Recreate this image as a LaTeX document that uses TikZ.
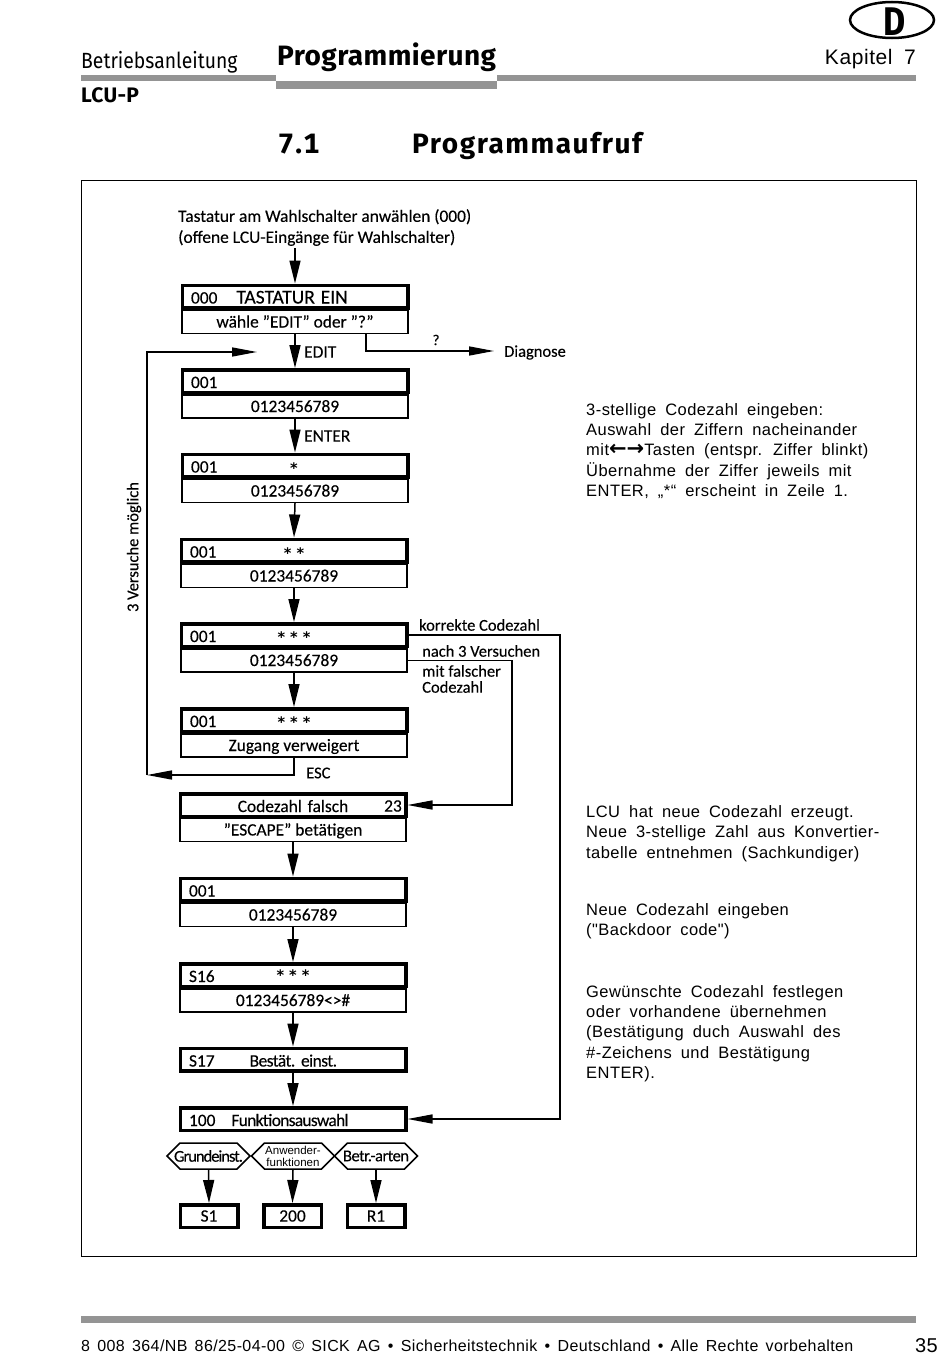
\documentclass[tikz,border=0pt]{standalone}
\usepackage{fontspec}
\setmainfont{Carlito}[FakeBold=0.25]
\newfontfamily\sidefont[LetterSpace=2.7,WordSpace=1.8]{Liberation Sans}
\newfontfamily\smallfont{Liberation Sans}
\newfontfamily\footfont[LetterSpace=2.5,WordSpace=1.5]{Liberation Sans}
\newfontfamily\manualfont[FakeStretch=.88]{Fira Sans}
\newfontfamily\headfont[LetterSpace=1.5,Numbers=Monospaced]{Fira Sans}
\newfontfamily\titlefont[LetterSpace=5.5,Numbers=Monospaced]{Fira Sans}
\newfontfamily\langfont[FakeStretch=.85]{Fira Sans}
\newfontfamily\arrowfont{DejaVu Sans}
\usetikzlibrary{arrows.meta,shapes.symbols,shapes.geometric}
\newcommand{\hexlabel}[1]{\makebox[57pt]{#1}}
\newcommand{\tightlabel}[2]{{\addfontfeature{LetterSpace=#1}#2}}

\tikzset{
    upbox/.style={draw, line width=3.5pt, minimum width=225.5pt, minimum height=22.5pt, inner sep=0pt, text width=208pt, text height=16pt, text depth=2pt, align=left},
    lowbox/.style={draw, line width=1.4pt, minimum width=226pt, minimum height=23pt, inner sep=0pt, text height=14pt, text depth=3pt, align=center},
    smallbox/.style={draw, line width=3.5pt, minimum width=57.5pt, minimum height=22.5pt, inner sep=0pt},
    hexbox/.style={draw, line width=1.5pt, shape=signal, signal to=west and east, minimum height=26pt, inner sep=0pt},
    flowarrow/.style={line width=1.5pt, -{Triangle[length=23pt,width=11pt]}},
    sidearrow/.style={line width=1.5pt, -{Triangle[length=25pt,width=9pt]}},
    flowtext/.style={inner sep=0pt, anchor=west},
    headtext/.style={inner sep=0pt, anchor=base west},
    sidetext/.style={inner sep=0pt, anchor=west, align=left, font=\sidefont\fontsize{16.5}{20.25}\selectfont},
    starmark/.style={inner sep=0pt, font=\arrowfont\bfseries\fontsize{14.5}{14}\selectfont},
    greybar/.style={fill=black!42, draw=none}
}

\begin{document}
\begin{tikzpicture}[x=1pt,y=-1pt,font=\fontsize{17.4}{21}\selectfont]
    \useasboundingbox (0,0) rectangle (950,1365);

    % page head
    \fill[greybar] (81,75) rectangle (276,81);
    \fill[greybar] (276,81) rectangle (497,89);
    \fill[greybar] (497,75) rectangle (916,81);
    \fill[greybar] (81,1316) rectangle (916,1323);
    \node[headtext, font=\manualfont\fontsize{22}{22}\selectfont] (manual) at (81,68) {Betriebsanleitung};
    \node[headtext, font=\headfont\bfseries\fontsize{28}{28}\selectfont] (chapter) at (277,65) {Programmierung};
    \node[headtext, font=\headfont\bfseries\fontsize{21}{21}\selectfont] (device) at (81,102) {LCU-P};
    \node[inner sep=0pt, anchor=base east, font=\sidefont\fontsize{21}{21}\selectfont] (kapitel) at (916,64) {Kapitel 7};
    \node[draw, ellipse, line width=2.5pt, minimum width=84pt, minimum height=36pt, inner sep=0pt] (lang) at (892,20) {};
    \node[inner sep=0pt, anchor=base, font=\langfont\bfseries\fontsize{40}{40}\selectfont] (langletter) at (895,35) {D};
    \node[headtext, font=\titlefont\bfseries\fontsize{28}{28}\selectfont] (secnum) at (278,153) {7.1};
    \node[headtext, font=\titlefont\bfseries\fontsize{28}{28}\selectfont] (sectitle) at (412,153) {Programmaufruf};
    \draw[line width=1pt] (81,180) rectangle (916,1256);

    % flow chart
    \node[flowtext, align=left] (intro) at (178,227.5) {Tastatur am Wahlschalter anwählen (000)\\(offene LCU-Eingänge für Wahlschalter)};
    \coordinate (start) at (295,248);

    \node[lowbox] (b1l) at (295,322) {wähle "EDIT" oder "?"};
    \node[upbox] (b1u) at (295,296.5) {000\hspace{19pt}{\fontsize{19.5}{21}\selectfont TASTATUR EIN}};
    \node[lowbox] (b2l) at (295,406.5) {0123456789};
    \node[upbox] (b2u) at (295,381) {001};
    \node[lowbox] (b3l) at (295,491) {0123456789};
    \node[upbox] (b3u) at (295,465.5) {001};
    \node[lowbox] (b4l) at (294,576) {0123456789};
    \node[upbox] (b4u) at (294,550.5) {001};
    \node[lowbox] (b5l) at (294,660.5) {0123456789};
    \node[upbox] (b5u) at (294,635) {001};
    \node[lowbox] (b6l) at (294,745.5) {Zugang verweigert};
    \node[upbox] (b6u) at (294,720) {001};
    \node[lowbox] (b7l) at (293,830) {"ESCAPE" betätigen};
    \node[upbox, align=center] (b7u) at (293,805) {Codezahl falsch};
    \node[lowbox] (b8l) at (293,915) {0123456789};
    \node[upbox] (b8u) at (293,889.5) {001};
    \node[lowbox] (b9l) at (293,1000.5) {0123456789<>\#};
    \node[upbox] (b9u) at (293,975) {S16};
    \node[upbox] (b10) at (293,1059.5) {S17\hspace{35pt}{\frenchspacing\tightlabel{-3}{Bestät. einst.}}};
    \node[upbox] (b11) at (293,1119) {100\hspace{16pt}\tightlabel{-4}{Funktionsauswahl}};

    \node[flowtext, anchor=east] (count) at (402,806) {23};
    \node[starmark] (s3) at (294,468.5) {*};
    \node[starmark] (s4) at (294,553) {* *};
    \node[starmark] (s5) at (294,637.5) {* * *};
    \node[starmark] (s6) at (294,722.5) {* * *};
    \node[starmark] (s9) at (293,975) {* * *};

    \node[hexbox, font=\fontsize{16.5}{16}\selectfont] (h1) at (208.5,1156) {\hexlabel{\tightlabel{-6}{Grundeinst.}}};
    \node[hexbox, text width=57pt, align=center, font=\smallfont\fontsize{11.5}{12}\selectfont] (h2) at (293,1156) {Anwender-\\funktionen};
    \node[hexbox, font=\fontsize{16.5}{16}\selectfont] (h3) at (376,1156) {\hexlabel{\tightlabel{-3}{Betr.-arten}}};
    \node[smallbox] (f1) at (209,1216) {S1};
    \node[smallbox] (f2) at (292.5,1216) {200};
    \node[smallbox] (f3) at (376,1216) {R1};

    \draw[flowarrow] (start) -- (b1u.north);
    \foreach \a/\b in {b1l/b2u,b2l/b3u,b3l/b4u,b4l/b5u,b5l/b6u,b7l/b8u,b8l/b9u,b9l/b10,b10/b11,h1/f1,h2/f2,h3/f3}
        \draw[flowarrow] (\a.south) -- (\b.north);

    % branches
    \node[flowtext] (edit) at (304,352) {EDIT};
    \node[flowtext] (enter) at (304,436) {ENTER};
    \node[inner sep=0pt, font=\fontsize{15}{15}\selectfont] (quest) at (436,340) {?};
    \node[flowtext, font=\fontsize{16.5}{16}\selectfont] (diag) at (504,352.5) {Diagnose};
    \coordinate (diagfork) at (366,334);
    \coordinate (diagtip) at (494,351);
    \draw[sidearrow] (diagfork) |- (diagtip);

    \coordinate (loopdown) at (147,775);
    \coordinate (looptip) at (257,352);
    \draw[sidearrow] (b6l.south) |- (loopdown);
    \draw[sidearrow] (loopdown) |- (looptip);
    \node[inner sep=0pt, rotate=90, font=\fontsize{16.5}{16}\selectfont] (tries) at (134,547) {3 Versuche möglich};
    \node[flowtext, font=\fontsize{16.5}{16}\selectfont] (esc) at (306,773) {ESC};

    \coordinate (goodline) at (560,900);
    \coordinate (badline) at (512,730);
    \draw[sidearrow] (b5u.east) -| (goodline) |- (b11.east);
    \draw[sidearrow] (b5l.east) -| (badline) |- (b7u.east);
    \node[flowtext, font=\fontsize{16.5}{16}\selectfont] (good) at (419,625) {korrekte Codezahl};
    \node[flowtext, font=\fontsize{16.5}{16}\selectfont] (bad) at (422,651) {nach 3 Versuchen};
    \node[flowtext, align=left, font=\fontsize{16.5}{16}\selectfont] (badtwo) at (422,679) {mit falscher\\Codezahl};

    % notes on the right
    \node[sidetext] (note1) at (586,451) {3-stellige Codezahl eingeben:\\Auswahl der Ziffern nacheinander\\mit{\arrowfont\bfseries\fontsize{21}{20}\selectfont ←→}Tasten (entspr. Ziffer blinkt)\\Übernahme der Ziffer jeweils mit\\ENTER, „*“ erscheint in Zeile 1.};
    \node[sidetext] (note2) at (586,833.5) {LCU hat neue Codezahl erzeugt.\\Neue 3-stellige Zahl aus Konvertier-\\tabelle entnehmen (Sachkundiger)};
    \node[sidetext] (note3) at (586,921.5) {Neue Codezahl eingeben\\("Backdoor code")};
    \node[sidetext] (note4) at (586,1033.5) {Gewünschte Codezahl festlegen\\oder vorhandene übernehmen\\(Bestätigung duch Auswahl des\\\#-Zeichens und Bestätigung\\ENTER).};

    % page foot
    \node[flowtext, font=\footfont\fontsize{16}{16}\selectfont] (foot) at (81,1346) {8 008 364/NB 86/25-04-00 © SICK AG • Sicherheitstechnik • Deutschland • Alle Rechte vorbehalten};
    \node[inner sep=0pt, anchor=east, font=\footfont\fontsize{20}{20}\selectfont] (page) at (938,1346) {35};
\end{tikzpicture}
\end{document}
